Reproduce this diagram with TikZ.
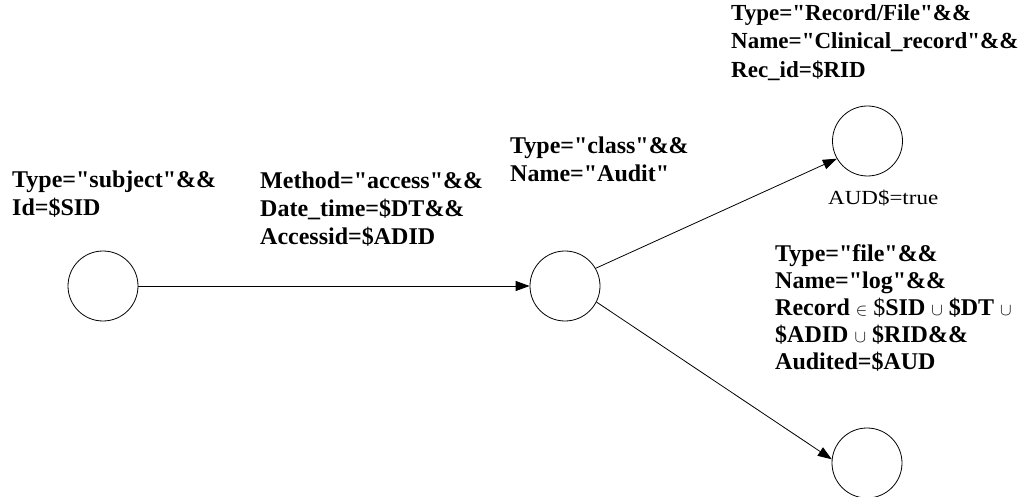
\documentclass[tikz,border=0pt]{standalone}
\usepackage{fontspec}
\setmainfont{Liberation Serif}[Ligatures=TeXOff]
\newfontfamily\plainlabel{Liberation Serif}[Ligatures=TeXOff, FakeStretch=1.15]
\usetikzlibrary{arrows.meta}
\tikzset{
  state/.style={circle, draw, line width=0.8pt, minimum size=70pt, inner sep=0pt},
  cond/.style={anchor=north west, inner sep=0pt, align=left,
    font=\fontsize{24}{28}\selectfont\bfseries},
  condtight/.style={cond, font=\fontsize{24}{27}\selectfont\bfseries},
  condnarrow/.style={cond, font=\fontsize{23}{28.5}\selectfont\bfseries},
  flow/.style={line width=0.8pt, -{Triangle[length=14pt,width=10pt]}},
  note/.style={anchor=base west, inner sep=0pt, font=\fontsize{20}{24}\selectfont\plainlabel}
}
\newcommand{\smallsym}[1]{{\fontsize{18}{18}\selectfont$#1$}}
\begin{document}
\begin{tikzpicture}[x=1pt, y=-1pt]
  \useasboundingbox (0,0) rectangle (1029,497);
  \clip (0,0) rectangle (1029,497);

  % states
  \node[state] (subject) at (103,286) {};
  \node[state] (audit)   at (565,286) {};
  \node[state] (record)  at (867.5,141) {};
  \node[state] (log)     at (867,463) {};

  % transitions
  \draw[flow] (subject) -- (audit);
  \draw[flow] (audit.30) -- (record.210);
  \draw[flow] (audit.-27) -- (log.174);

  % attribute conditions
  \node[cond] (subjattr) at (12,171) {Type="subject"\&\&\\Id=\$SID};
  \node[cond] (accattr) at (260,172) {Method="access"\&\&\\Date\_time=\$DT\&\&\\Accessid=\$ADID};
  \node[cond] (classattr) at (510,137) {Type="class"\&\&\\Name="Audit"};
  \node[condnarrow] (recattr) at (731,4) {Type="Record/File"\&\&\\Name="Clinical\_record"\&\&\\Rec\_id=\$RID};
  \node[condtight] (logattr) at (775,244) {Type="file"\&\&\\Name="log"\&\&\\
    Record \smallsym{\in} {\mdseries\$}SID \smallsym{\cup} \$DT \smallsym{\cup}\\
    \$ADID \smallsym{\cup} \$RID\&\&\\Audited=\$AUD};
  \node[note] (audnote) at (828,205) {AUD\$=true};
\end{tikzpicture}
\end{document}
